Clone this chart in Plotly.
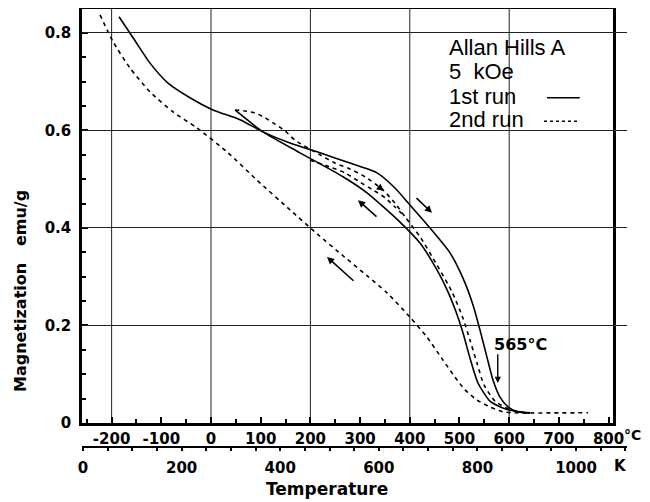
import plotly.graph_objects as go

# ---- data ----
# 1st run, heating (solid, upper branch)
run1_heat_T = [-185.1, -156.9, -122.7, -86.5, -42.3, 4.0, 58.4, 104.6, 158.9, 219.3, 279.7, 334.0,
               370.2, 400.4, 440.6, 480.9, 507.0, 527.2, 541.2, 555.3, 567.4, 581.5, 597.6, 615.7, 641.9]
run1_heat_M = [0.833, 0.790, 0.738, 0.697, 0.667, 0.642, 0.622, 0.597, 0.574, 0.554, 0.533, 0.513,
               0.482, 0.447, 0.400, 0.349, 0.297, 0.242, 0.191, 0.135, 0.088, 0.053, 0.033, 0.023, 0.020]
# 1st run, cooling (solid, lower branch)
run1_cool_T = [48.3, 104.6, 179.1, 265.6, 313.9, 380.3, 420.5, 454.7, 476.9, 493.0, 507.0, 521.1,
               537.2, 561.4, 591.5, 621.7, 641.9]
run1_cool_M = [0.642, 0.597, 0.554, 0.505, 0.472, 0.412, 0.369, 0.314, 0.269, 0.228, 0.185, 0.133,
               0.082, 0.045, 0.029, 0.023, 0.021]
# 2nd run, heating (dashed, inside the 1st-run loop)
run2_heat_T = [48.3, 68.4, 88.5, 108.7, 128.8, 148.9, 169.0, 219.3, 249.5, 279.7, 309.9, 346.1, 370.2,
               390.3, 420.5, 454.7, 484.9, 507.0, 521.1, 535.2, 549.3, 571.4, 597.6, 621.7, 641.9]
run2_heat_M = [0.642, 0.640, 0.636, 0.626, 0.613, 0.599, 0.580, 0.550, 0.533, 0.521, 0.505, 0.478, 0.451,
               0.423, 0.382, 0.324, 0.269, 0.215, 0.170, 0.123, 0.078, 0.045, 0.029, 0.023, 0.021]
# 2nd run, second dashed trace in the loop
run2_band_T = [199.2, 239.4, 269.6, 299.8, 326.0, 350.1, 370.2, 390.3]
run2_band_M = [0.539, 0.525, 0.513, 0.494, 0.478, 0.462, 0.443, 0.423]
# 2nd run, cooling (dashed, lower-left curve incl. flat high-T part)
run2_cool_T = [-223.3, -197.2, -163.0, -122.7, -76.5, -28.2, 32.2, 92.6, 159.0, 213.3, 265.6, 313.9,
               354.1, 400.4, 434.6, 466.8, 490.9, 511.1, 535.2, 561.4, 587.5, 611.7, 758.6]
run2_cool_M = [0.837, 0.782, 0.728, 0.679, 0.638, 0.605, 0.556, 0.498, 0.437, 0.388, 0.343, 0.302,
               0.267, 0.217, 0.176, 0.129, 0.094, 0.068, 0.047, 0.033, 0.023, 0.021, 0.021]

celsius_ticks = [-200, -100, 0, 100, 200, 300, 400, 500, 600, 700, 800]
celsius_labels = ["-200", "-100", "0", "100", "200", "300", "400", "500", "600", "700", "800"]
kelvin_ticks = [0, 200, 400, 600, 800, 1000]
kelvin_labels = ["0", "200", "400", "600", "800", "1000"]
y_ticks = [0, 0.2, 0.4, 0.6, 0.8]
y_labels = ["0", "0.2", "0.4", "0.6", "0.8"]
grid_C = [-200, 0, 200, 400, 600]
curie_T = 565

FONT = "DejaVu Sans"
tickfont = dict(family=FONT, size=15, color="black", weight="bold")

# screen -> paper helpers (body margin of the page is 8px)
PL, PR, PB, PT = 82, 627, 447, 9
def px(xs):
    return (xs - PL) / (PR - PL)
def py(ys):
    return (PB - ys) / (PB - PT)

fig = go.Figure()

def add_line(x, y, dash):
    fig.add_trace(go.Scatter(x=x, y=y, mode="lines", xaxis="x", yaxis="y",
                             line=dict(color="black", width=1.6, dash=dash, shape="spline", smoothing=0.6),
                             hoverinfo="skip", showlegend=False))

add_line(run1_heat_T, run1_heat_M, "solid")
add_line(run1_cool_T, run1_cool_M, "solid")
add_line(run2_heat_T, run2_heat_M, "4px,4px")
add_line(run2_band_T, run2_band_M, "4px,4px")
add_line(run2_cool_T, run2_cool_M, "4px,4px")

# dummy trace so the Kelvin axis is drawn
fig.add_trace(go.Scatter(x=[500], y=[0.5], xaxis="x2", yaxis="y", mode="markers",
                         marker=dict(opacity=0), hoverinfo="skip", showlegend=False))

# vertical grid lines
for g in grid_C:
    fig.add_shape(type="line", xref="x", yref="y", x0=g, x1=g, y0=0, y1=0.849,
                  line=dict(color="#222", width=1), layer="below")

# legend-like block (text + line samples)
legend_items = [("Allan Hills A", 0.771), ("5\u00a0\u00a0kOe", 0.720), ("1st run", 0.669), ("2nd run", 0.622)]
for txt, yy in legend_items:
    fig.add_annotation(x=475, y=yy, xref="x", yref="y", text=txt, showarrow=False,
                       xanchor="left", yanchor="middle",
                       font=dict(family="Liberation Sans", size=22, color="black"))
fig.add_shape(type="line", xref="x", yref="y", x0=676, x1=742, y0=0.667, y1=0.667,
              line=dict(color="black", width=1.5))
fig.add_shape(type="line", xref="x", yref="y", x0=670, x1=738, y0=0.619, y1=0.619,
              line=dict(color="black", width=1.5, dash="3px,3px"))

# direction arrows
arrows = [
    (444.7, 0.431, 410.5, 0.464),   # 1st heating
    (295.8, 0.457, 336.0, 0.4205),  # 1st cooling
    (233.4, 0.3405, 289.7, 0.289),  # 2nd cooling
    (348.0, 0.476, 334.0, 0.487),   # 2nd heating
]
for hx, hy, tx, ty in arrows:
    fig.add_annotation(x=hx, y=hy, ax=tx, ay=ty, xref="x", yref="y", axref="x", ayref="y",
                       showarrow=True, arrowhead=2, arrowsize=0.9, arrowwidth=1.6,
                       arrowcolor="black", text="")

# Curie point
fig.add_annotation(x=curie_T + 12, y=0.082, ax=curie_T + 12, ay=0.144, xref="x", yref="y",
                   axref="x", ayref="y", showarrow=True, arrowhead=2, arrowsize=0.9,
                   arrowwidth=1.4, arrowcolor="black", text="")
fig.add_annotation(x=curie_T + 57, y=0.160, xref="x", yref="y", text=f"{curie_T}°C", showarrow=False,
                   xanchor="center", yanchor="middle",
                   font=dict(family=FONT, size=16, color="black", weight="bold"))

# unit labels and titles
fig.add_annotation(x=px(632), y=py(435), xref="paper", yref="paper", text="°C",
                   showarrow=False, xanchor="center", yanchor="middle",
                   font=dict(family=FONT, size=14, color="black", weight="bold"))
fig.add_annotation(x=px(620), y=py(466), xref="paper", yref="paper", text="K",
                   showarrow=False, xanchor="center", yanchor="middle", font=tickfont)
fig.add_annotation(x=px(327), y=py(489), xref="paper", yref="paper",
                   text="Temperature", showarrow=False, xanchor="center", yanchor="middle",
                   font=dict(family=FONT, size=17, color="black", weight="bold"))
fig.add_annotation(x=px(20), y=py(291), xref="paper", yref="paper",
                   text="Magnetization\u00a0\u00a0\u00a0emu/g", textangle=-90, showarrow=False,
                   xanchor="center", yanchor="middle",
                   font=dict(family=FONT, size=16, color="black", weight="bold"))

W, H = 642, 494
fig.update_layout(
    width=W, height=H,
    margin=dict(l=PL - 8, r=W - (PR - 8), t=PT - 8, b=H - (PB - 8), autoexpand=False),
    paper_bgcolor="white", plot_bgcolor="rgba(0,0,0,0)",
    showlegend=False,
    xaxis=dict(domain=[0, (613 - PL) / (PR - PL)], range=[-259.6, 808.9], anchor="y",
               tickmode="array", tickvals=celsius_ticks, ticktext=celsius_labels,
               ticks="inside", ticklen=6, tickwidth=1.5, tickcolor="black",
               minor=dict(dtick=50, tick0=0, ticks="inside", ticklen=4, tickcolor="black"),
               showgrid=False, zeroline=False, showline=True, linewidth=2.5, linecolor="black",
               mirror=True, tickfont=tickfont, ticklabelstandoff=0),
    xaxis2=dict(domain=[0, 1], range=[-2.03, 1103.4], anchor="free", position=0,
                tickmode="array", tickvals=kelvin_ticks, ticktext=kelvin_labels,
                ticks="outside", ticklen=3, tickwidth=1.5, tickcolor="black",
                minor=dict(dtick=50, tick0=0, ticks="outside", ticklen=3, tickcolor="black"),
                showgrid=False, zeroline=False, showline=True, linewidth=2, linecolor="black",
                tickfont=tickfont, ticklabelstandoff=4),
    yaxis=dict(domain=[(PB - 423) / (PB - PT), 1], range=[0, 0.849], anchor="x",
               tickmode="array", tickvals=y_ticks, ticktext=y_labels,
               ticks="inside", ticklen=6, tickwidth=1.5, tickcolor="black",
               minor=dict(dtick=0.05, tick0=0, ticks="inside", ticklen=4, tickcolor="black"),
               showgrid=True, gridcolor="#222", gridwidth=1, zeroline=False,
               showline=True, linewidth=2.5, linecolor="black", mirror=True,
               tickfont=tickfont, ticklabelstandoff=5),
)

fig.write_html("out.html")
